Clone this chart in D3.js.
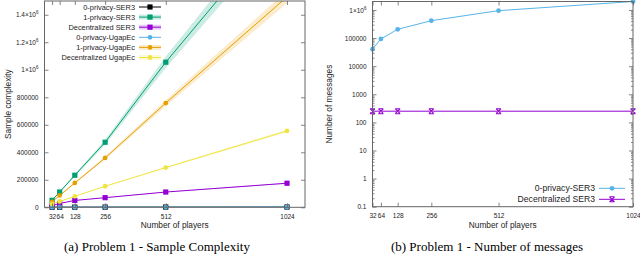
<!DOCTYPE html>
<html>
<head>
<meta charset="utf-8">
<script src="https://cdn.jsdelivr.net/npm/d3@7/dist/d3.min.js"></script>
<style>
  body { margin: 0; background: #fff; }
  text { font-family: "Liberation Sans", Arial, sans-serif; fill: #222; }
  .cap { font-family: "Liberation Serif", "Times New Roman", serif; fill: #000; }
</style>
</head>
<body>
<svg id="fig" width="640" height="254"></svg>
<script>
// Nombre de joueurs (axe x commun)
const players = [32, 64, 128, 256, 512, 1024];

// (a) Sample complexity
const zeroPrivSER3  = [900, 1100, 1300, 1500, 1800, 2100];
const onePrivSER3   = [51000, 111000, 233000, 473000, 1055000, 2110000];
const decSER3       = [12000, 28000, 50000, 70000, 111000, 175000];
const zeroPrivUgap  = [800, 1000, 1200, 1400, 1700, 2000];
const onePrivUgap   = [40000, 86000, 177000, 359000, 758000, 1530000];
const decUgap       = [24000, 42000, 80000, 153000, 289000, 555000];

// (b) Number of messages
const msgZeroPrivSER3 = [40000, 93000, 205000, 416000, 945000, 2000000];
const msgDecSER3      = [250, 250, 250, 250, 250, 250];

const yTicksA = [0, 200000, 400000, 600000, 800000, 1000000, 1200000, 1400000];
const yTicksB = [0.1, 1, 10, 100, 1000, 10000, 100000, 1000000];

const col = {
  black: "#000000", green: "#009e73", purple: "#9400d3",
  blue: "#56b4e9", orange: "#e69f00", yellow: "#f0e442"
};

const svg = d3.select("#fig");
const axisCol = "#666";
const tickFont = "6.5px";

// label avec exposant pour 10^6
function sciLabel(sel) {
  sel.each(function (d) {
    if (d >= 1000000) {
      const t = d3.select(this);
      t.text(null);
      t.append("tspan").text(d / 1000000 + "×10");
      t.append("tspan").attr("dy", -3).attr("font-size", "4.5px").text("6");
    }
  });
}

function marker(g, type, x, y, c) {
  if (type === "square") {
    g.append("rect").attr("x", x - 2.6).attr("y", y - 2.6).attr("width", 5.2).attr("height", 5.2).attr("fill", c);
  } else if (type === "circle") {
    g.append("circle").attr("cx", x).attr("cy", y).attr("r", 2.4).attr("fill", c);
  } else if (type === "x") {
    g.append("path").attr("d", `M${x - 2.5},${y - 2.5}L${x + 2.5},${y + 2.5}M${x - 2.5},${y + 2.5}L${x + 2.5},${y - 2.5}M${x - 2.5},${y - 2.5}H${x + 2.5}M${x - 2.5},${y + 2.5}H${x + 2.5}`)
      .attr("stroke", c).attr("stroke-width", 1.1).attr("fill", "none");
  }
}

function styleAxis(a) {
  a.selectAll(".domain").remove();
  a.selectAll("line").attr("stroke", axisCol).attr("stroke-width", 0.8);
  a.selectAll("text").attr("font-size", tickFont).attr("fill", "#333")
    .attr("font-family", "Liberation Sans, Arial, sans-serif");
}

// ---------- panneau (a) ----------
const xA = d3.scaleLinear().domain([0, 1100]).range([44.5, 305]);
const yA = d3.scaleLinear().domain([0, 1500000]).range([207.3, 1]);

const gA = svg.append("g");
gA.append("clipPath").attr("id", "clipA").append("rect")
  .attr("x", xA.range()[0]).attr("y", yA.range()[1])
  .attr("width", xA.range()[1] - xA.range()[0])
  .attr("height", yA.range()[0] - yA.range()[1]);

const seriesA = [
  { name: "0-privacy-SER3", vals: zeroPrivSER3, c: col.black, m: "square", band: 0 },
  { name: "1-privacy-SER3", vals: onePrivSER3, c: col.green, m: "square", band: 0.04 },
  { name: "Decentralized SER3", vals: decSER3, c: col.purple, m: "square", band: 0.02 },
  { name: "0-privacy-UgapEc", vals: zeroPrivUgap, c: col.blue, m: "circle", band: 0 },
  { name: "1-privacy-UgapEc", vals: onePrivUgap, c: col.orange, m: "circle", band: 0.03 },
  { name: "Decentralized UgapEc", vals: decUgap, c: col.yellow, m: "circle", band: 0.02 }
];

const plotA = gA.append("g").attr("clip-path", "url(#clipA)");
const markA = gA.append("g");
seriesA.forEach(s => {
  const pts = players.map((p, i) => [p, s.vals[i]]);
  if (s.band) {
    plotA.append("path").datum(pts)
      .attr("d", d3.area().x(d => xA(d[0])).y0(d => yA(d[1] * (1 - s.band))).y1(d => yA(d[1] * (1 + s.band))))
      .attr("fill", s.c).attr("opacity", 0.2);
  }
  plotA.append("path").datum(pts)
    .attr("d", d3.line().x(d => xA(d[0])).y(d => yA(d[1])))
    .attr("fill", "none").attr("stroke", s.c).attr("stroke-width", 1);
  pts.filter(d => d[1] <= yA.domain()[1])
    .forEach(d => marker(markA, s.m, xA(d[0]), yA(d[1]), s.c));
});

// axes (a)
{
  const left = gA.append("g").attr("transform", `translate(${xA.range()[0]},0)`)
    .call(d3.axisLeft(yA).tickValues(yTicksA).tickSize(-4).tickPadding(6).tickFormat(d3.format("d")));
  const right = gA.append("g").attr("transform", `translate(${xA.range()[1]},0)`)
    .call(d3.axisRight(yA).tickValues(yTicksA).tickSize(-4).tickFormat(""));
  const bottom = gA.append("g").attr("transform", `translate(0,${yA.range()[0]})`)
    .call(d3.axisBottom(xA).tickValues(players).tickSize(-4).tickPadding(7).tickFormat(d3.format("d")));
  const top = gA.append("g").attr("transform", `translate(0,${yA.range()[1]})`)
    .call(d3.axisTop(xA).tickValues(players).tickSize(-4).tickFormat(""));
  [left, right, bottom, top].forEach(styleAxis);
  left.selectAll("text").call(sciLabel);
  gA.append("rect").attr("x", xA.range()[0]).attr("y", yA.range()[1])
    .attr("width", xA.range()[1] - xA.range()[0]).attr("height", yA.range()[0] - yA.range()[1])
    .attr("fill", "none").attr("stroke", axisCol).attr("stroke-width", 1);
}

// légende (a)
seriesA.forEach((s, i) => {
  const y = 7 + i * 10.1;
  gA.append("text").attr("x", 135).attr("y", y).attr("dy", "0.35em")
    .attr("text-anchor", "end").attr("font-size", "7.4px").text(s.name);
  if (s.band) gA.append("rect").attr("x", 139).attr("y", y - 2.5).attr("width", 22).attr("height", 5)
    .attr("fill", s.c).attr("opacity", 0.2);
  gA.append("line").attr("x1", 139).attr("x2", 161).attr("y1", y).attr("y2", y)
    .attr("stroke", s.c).attr("stroke-width", 1);
  marker(gA, s.m, 150, y, s.c);
});

gA.append("text").attr("transform", `translate(8,${(yA.range()[0] + yA.range()[1]) / 2}) rotate(-90)`)
  .attr("text-anchor", "middle").attr("dy", "0.35em").attr("font-size", "8.3px").text("Sample complexity");
gA.append("text").attr("x", (xA.range()[0] + xA.range()[1]) / 2).attr("y", 225).attr("dy", "0.35em")
  .attr("text-anchor", "middle").attr("font-size", "8.3px").text("Number of players");
gA.append("text").attr("class", "cap").attr("x", 157).attr("y", 246.5).attr("dy", "0.35em")
  .attr("text-anchor", "middle").attr("font-size", "13px").text("(a)  Problem 1 - Sample Complexity");

// ---------- panneau (b) ----------
const xB = d3.scaleLinear().domain([32, 1024]).range([372.5, 633]);
const yB = d3.scaleLog().domain([0.1, 2000000]).range([206.7, 1.5]);
const gB = svg.append("g");

const minorB = [];
yTicksB.forEach(t => { for (let k = 2; k <= 9; k++) if (t * k < 2000000) minorB.push(t * k); });

const seriesB = [
  { name: "0-privacy-SER3", vals: msgZeroPrivSER3, c: col.blue, m: "circle" },
  { name: "Decentralized SER3", vals: msgDecSER3, c: col.purple, m: "x" }
];
seriesB.forEach(s => {
  const pts = players.map((p, i) => [p, s.vals[i]]);
  gB.append("path").datum(pts)
    .attr("d", d3.line().x(d => xB(d[0])).y(d => yB(d[1])))
    .attr("fill", "none").attr("stroke", s.c).attr("stroke-width", 1);
  pts.forEach(d => marker(gB, s.m, xB(d[0]), yB(d[1]), s.c));
});

// axes (b)
{
  const left = gB.append("g").attr("transform", `translate(${xB.range()[0]},0)`)
    .call(d3.axisLeft(yB).tickValues(yTicksB).tickSize(-4).tickPadding(6)
      .tickFormat(d => d < 1 ? "0.1" : d3.format("d")(d)));
  const leftMinor = gB.append("g").attr("transform", `translate(${xB.range()[0]},0)`)
    .call(d3.axisLeft(yB).tickValues(minorB).tickSize(-2).tickFormat(""));
  const right = gB.append("g").attr("transform", `translate(${xB.range()[1]},0)`)
    .call(d3.axisRight(yB).tickValues(yTicksB).tickSize(-4).tickFormat(""));
  const rightMinor = gB.append("g").attr("transform", `translate(${xB.range()[1]},0)`)
    .call(d3.axisRight(yB).tickValues(minorB).tickSize(-2).tickFormat(""));
  const bottom = gB.append("g").attr("transform", `translate(0,${yB.range()[0]})`)
    .call(d3.axisBottom(xB).tickValues(players).tickSize(-4).tickPadding(7).tickFormat(d3.format("d")));
  const top = gB.append("g").attr("transform", `translate(0,${yB.range()[1]})`)
    .call(d3.axisTop(xB).tickValues(players).tickSize(-4).tickFormat(""));
  [left, leftMinor, right, rightMinor, bottom, top].forEach(styleAxis);
  left.selectAll("text").call(sciLabel);
  gB.append("rect").attr("x", xB.range()[0]).attr("y", yB.range()[1])
    .attr("width", xB.range()[1] - xB.range()[0]).attr("height", yB.range()[0] - yB.range()[1])
    .attr("fill", "none").attr("stroke", axisCol).attr("stroke-width", 1);
}

// légende (b)
seriesB.forEach((s, i) => {
  const y = 188.3 + i * 11;
  gB.append("text").attr("x", 595).attr("y", y).attr("dy", "0.35em")
    .attr("text-anchor", "end").attr("font-size", "8.6px").text(s.name);
  gB.append("line").attr("x1", 599).attr("x2", 625).attr("y1", y).attr("y2", y)
    .attr("stroke", s.c).attr("stroke-width", 1);
  marker(gB, s.m, 612, y, s.c);
});

gB.append("text").attr("transform", `translate(329,${(yB.range()[0] + yB.range()[1]) / 2}) rotate(-90)`)
  .attr("text-anchor", "middle").attr("dy", "0.35em").attr("font-size", "8.3px").text("Number of messages");
gB.append("text").attr("x", (xB.range()[0] + xB.range()[1]) / 2).attr("y", 225).attr("dy", "0.35em")
  .attr("text-anchor", "middle").attr("font-size", "8.3px").text("Number of players");
gB.append("text").attr("class", "cap").attr("x", 487).attr("y", 246.5).attr("dy", "0.35em")
  .attr("text-anchor", "middle").attr("font-size", "13px").text("(b)  Problem 1 - Number of messages");
</script>
</body>
</html>
